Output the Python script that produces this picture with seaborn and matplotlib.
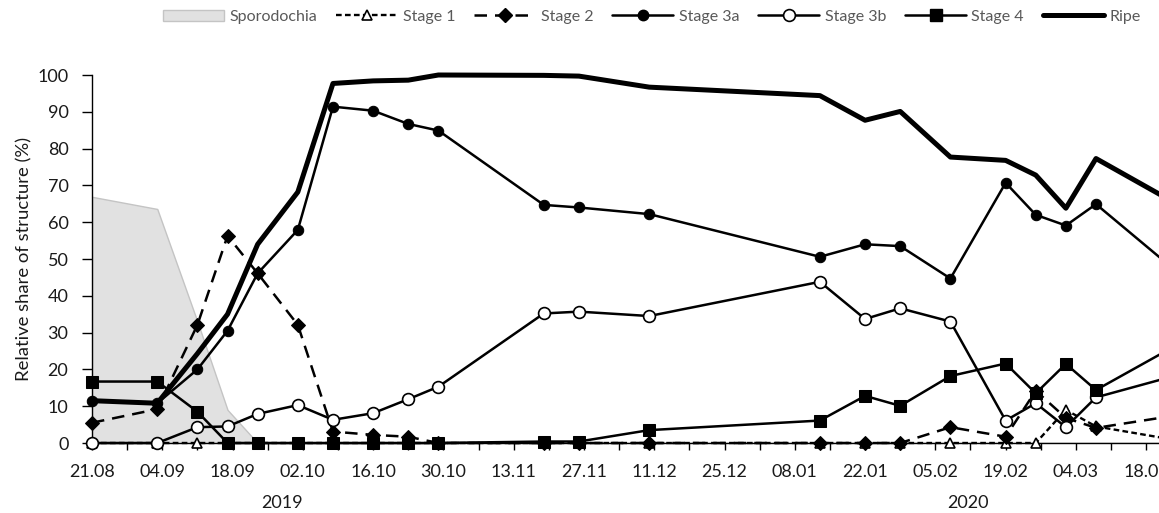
import matplotlib
matplotlib.use("Agg")
import numpy as np
import pandas as pd
import matplotlib.pyplot as plt
import seaborn as sns
from matplotlib.lines import Line2D
from matplotlib.patches import Patch

# Sampling dates of the field survey
sample_dates = [
    "2019-08-21", "2019-09-03", "2019-09-11", "2019-09-17", "2019-09-23",
    "2019-10-01", "2019-10-08", "2019-10-16", "2019-10-23", "2019-10-29",
    "2019-11-19", "2019-11-26", "2019-12-10", "2020-01-13", "2020-01-22",
    "2020-01-29", "2020-02-08", "2020-02-19", "2020-02-25", "2020-03-02",
    "2020-03-08", "2020-03-23",
]

# Relative share of each structure (%)
sporodochia = [66.9, 63.6, 33.0, 9.0, 0, 0, 0, 0, 0, 0, 0, 0, 0, 0, 0, 0, 0, 0, 0, 0, 0, 0]
stage_1 = [0, 0, 0, 0, 0, 0, 0, 0, 0, 0, 0, 0, 0, 0, 0, 0, 0, 0, 0, 9.0, 4.5, 1.0]
stage_2 = [5.5, 9.2, 32.1, 56.3, 46.1, 32.1, 3.1, 2.2, 1.7, 0, 0, 0, 0, 0, 0, 0, 4.3, 1.7, 14.2, 6.8, 4.1, 7.3]
stage_3a = [11.5, 10.8, 20.0, 30.5, 46.1, 57.9, 91.4, 90.3, 86.7, 84.9, 64.7, 64.0, 62.2, 50.6, 54.0, 53.5, 44.7, 70.7, 62.0, 59.1, 64.9, 47.8]
stage_3b = [0, 0, 4.3, 4.5, 7.9, 10.3, 6.3, 8.1, 11.9, 15.3, 35.2, 35.7, 34.5, 43.8, 33.7, 36.6, 33.0, 6.1, 10.8, 4.3, 12.4, 18.0]
stage_4 = [16.7, 16.7, 8.5, 0, 0, 0, 0, 0, 0, 0, 0.4, 0.4, 3.5, 6.1, 12.8, 10.1, 18.2, 21.6, 13.5, 21.5, 14.4, 25.8]
ripe = [11.5, 10.8, 24.3, 35.0, 54.0, 68.2, 97.7, 98.4, 98.6, 100.0, 99.9, 99.7, 96.7, 94.4, 87.7, 90.1, 77.7, 76.8, 72.8, 63.8, 77.3, 65.8]

year_labels = ["2019", "2020"]
y_label = "Relative share of structure (%)"

origin = pd.Timestamp("2019-08-21")
days = (pd.to_datetime(sample_dates) - origin).days.values

sns.set_style("ticks")
plt.rcParams["font.family"] = ["Lato", "DejaVu Sans"]
plt.rcParams["axes.linewidth"] = 1.0

fig = plt.figure(figsize=(11.59, 5.13), dpi=100)
ax = fig.add_axes([92 / 1159, 70 / 513, 1 - 92 / 1159, 368 / 513])

# Sporodochia as a shaded area
ax.fill_between(days, 0, sporodochia, facecolor="#e1e1e1", edgecolor="#c4c4c4",
                linewidth=1.0, zorder=1)

series = [
    ("Stage 1", stage_1, dict(linestyle=(0, (2.4, 1.4)), lw=1.7, marker="^", markersize=7.5,
                             markerfacecolor="white", markeredgecolor="black", markeredgewidth=1.2)),
    ("Stage 2", stage_2, dict(linestyle=(0, (5.0, 3.2)), lw=1.8, marker="D", markersize=7.0,
                             markerfacecolor="black", markeredgecolor="black")),
    ("Stage 3a", stage_3a, dict(linestyle="-", lw=1.8, marker="o", markersize=7.5,
                               markerfacecolor="black", markeredgecolor="black")),
    ("Stage 3b", stage_3b, dict(linestyle="-", lw=1.8, marker="o", markersize=8.5,
                               markerfacecolor="white", markeredgecolor="black", markeredgewidth=1.2)),
    ("Stage 4", stage_4, dict(linestyle="-", lw=1.8, marker="s", markersize=8.5,
                              markerfacecolor="black", markeredgecolor="black")),
    ("Ripe", ripe, dict(linestyle="-", lw=3.6)),
]

handles = [Patch(facecolor="#e1e1e1", edgecolor="#c4c4c4", label="Sporodochia")]
for i, (name, vals, style) in enumerate(series):
    df = pd.DataFrame({"day": days, "value": vals})
    sns.lineplot(data=df, x="day", y="value", ax=ax, color="black", sort=False,
                 errorbar=None, clip_on=False, zorder=3 + i, **style)
    handles.append(Line2D([], [], color="black", label=name, **style))

# Axis runs past the right edge of the figure
x_right = (1159 - 92) / 5.02
tick_days = np.arange(0, x_right, 7)
ax.set_xticks(tick_days)
labels = []
for d in tick_days:
    if d % 14 == 0:
        labels.append((origin + pd.Timedelta(days=int(d))).strftime("%d.%m"))
    else:
        labels.append("")
ax.set_xticklabels(labels)
ax.set_xlim(0, x_right)
ax.set_ylim(0, 100)
ax.set_yticks(np.arange(0, 101, 10))

ax.tick_params(axis="both", direction="out", width=1.0, colors="black",
               labelsize=13, labelcolor="#1a1a1a")
ax.tick_params(axis="x", length=5, pad=10)
ax.tick_params(axis="y", length=7, pad=10)
ax.set_xlabel("")
ax.set_ylabel(y_label, fontsize=13.3, color="#1a1a1a")
ax.yaxis.set_label_coords((32 - 92) / 1067, 0.5)
sns.despine(ax=ax, top=True, right=True)
ax.spines["left"].set_color("black")
ax.spines["bottom"].set_color("black")

fig.text(282 / 1159, 1 - 503 / 513, year_labels[0], ha="center", va="center",
         fontsize=13, color="#1a1a1a")
fig.text(968 / 1159, 1 - 503 / 513, year_labels[1], ha="center", va="center",
         fontsize=13, color="#1a1a1a")

leg = fig.legend(handles=handles, loc="center", bbox_to_anchor=(652 / 1159, 1 - 17 / 513),
                 ncol=7, frameon=False, fontsize=11.5, handlelength=3.8, borderpad=0,
                 columnspacing=1.2, handletextpad=0.35)
for t in leg.get_texts():
    t.set_color("#595959")

fig.savefig("out.png", dpi=100)
